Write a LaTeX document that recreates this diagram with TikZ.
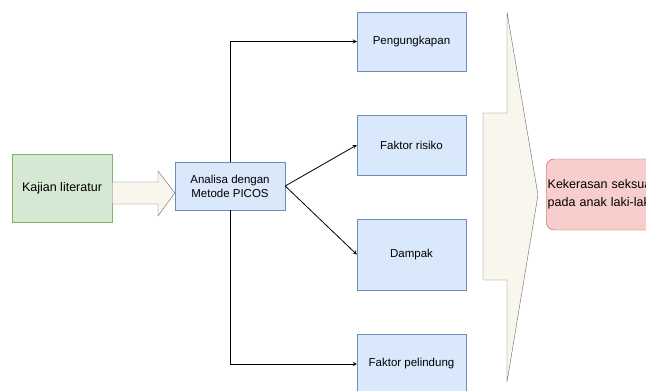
\documentclass[tikz,border=0pt]{standalone}
\usepackage{fontspec}
\setmainfont{Liberation Sans}
\usetikzlibrary{positioning}

\definecolor{hijau}{HTML}{D5E8D4}
\definecolor{hijaugaris}{HTML}{82B366}
\definecolor{biru}{HTML}{DAE8FC}
\definecolor{birugaris}{HTML}{6C8EBF}
\definecolor{merah}{HTML}{F8CECC}
\definecolor{merahgaris}{HTML}{B85450}
\definecolor{krem}{HTML}{F9F7ED}

\tikzset{
  kotak/.style={draw=birugaris, fill=biru, minimum width=109pt, font=\fontsize{11.5}{14}\selectfont, align=center, inner sep=2pt},
  panah/.style={->, >=stealth, thick},
  blokpanah/.style={draw=gray!80!black, fill=krem, line join=miter}
}

\begin{document}
\begin{tikzpicture}[x=1pt, y=-1pt]
        \useasboundingbox (0,0) rectangle (646,391);
        \node[draw=hijaugaris, fill=hijau, minimum width=100pt, minimum height=68pt, font=\fontsize{12.5}{14}\selectfont] (kajian) at (62,188) {Kajian literatur};
        \node[kotak, minimum width=110pt, minimum height=48pt] (analisa) at (230,186) {Analisa dengan\\Metode PICOS};

        \node[kotak, minimum height=59pt] (ungkap) at (411.5,41.5) {Pengungkapan};
        \node[kotak, minimum height=60pt] (risiko) at (411.5,145) {Faktor risiko};
        \node[kotak, minimum height=71pt] (dampak) at (411.5,254.5) {Dampak};
        \node[kotak, minimum height=60pt] (lindung) at (411.5,364) {Faktor pelindung};

        \node[draw=merahgaris, fill=merah, rounded corners=8pt, text width=112pt, align=left, inner xsep=1.5pt, minimum height=71pt, anchor=west, font=\fontsize{12.5}{18}\selectfont] (hasil) at (546,194.5) {Kekerasan seksual\\pada anak laki-laki};

        % panah besar
        \draw[blokpanah] (kajian.east |- 0,182) -- (158,182) -- (158,171) -- (analisa.west |- 0,193) -- (158,216) -- (158,204) -- (kajian.east |- 0,204) -- cycle;
        \draw[blokpanah] (483,113) -- (507,113) -- (507,12) -- (538,195) -- (507,382) -- (507,280) -- (483,280) -- cycle;

        \draw[panah] (analisa.north) |- (ungkap.west);
        \draw[panah] (analisa.east) -- (risiko.west);
        \draw[panah] (analisa.east) -- (dampak.west);
        \draw[panah] (analisa.south) |- (lindung.west);
\end{tikzpicture}
\end{document}
